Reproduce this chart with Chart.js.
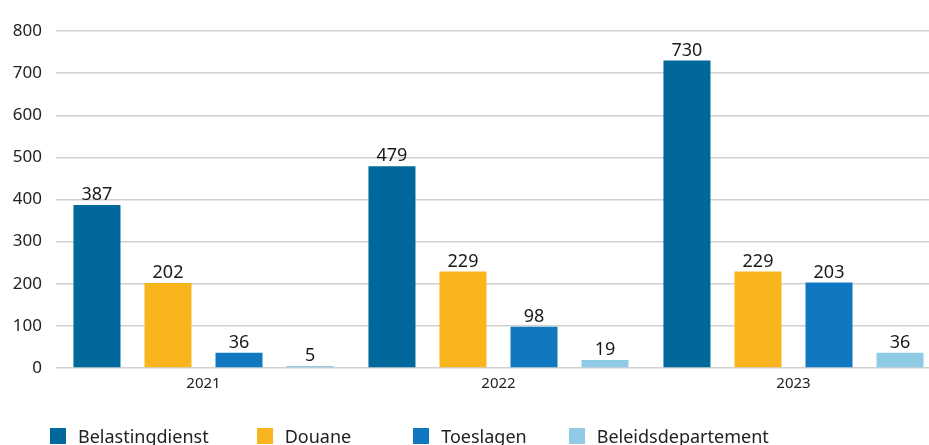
<!DOCTYPE html>
<html>
<head>
<meta charset="utf-8">
<script src="https://cdn.jsdelivr.net/npm/chart.js@4"></script>
<style>
  html, body { margin: 0; padding: 0; background: #fff; overflow: hidden; }
  #wrap { position: absolute; left: 0; top: 0; width: 945px; height: 445px; }
  #legend { position: absolute; left: 50px; top: 424px; display: flex; white-space: nowrap;
            font-family: "Noto Sans", "Open Sans", sans-serif; font-size: 18px; color: #222; }
  #legend .item { display: flex; align-items: center; margin-right: 48px; }
  #legend .item:nth-child(2) { margin-right: 62px; }
  #legend .item:nth-child(3) { margin-right: 42px; }
  #legend .box { width: 16px; height: 16px; margin-right: 12px; }
</style>
</head>
<body>
<div id="wrap"><canvas id="chart" width="945" height="445"></canvas></div>
<div id="legend"></div>
<script>
// jaren en aantallen per organisatie
const years = ['2021', '2022', '2023'];
const belastingdienst = [387, 479, 730];
const douane = [202, 229, 229];
const toeslagen = [36, 98, 203];
const beleidsdepartement = [5, 19, 36];
const yTicks = [0, 100, 200, 300, 400, 500, 600, 700, 800];

const fontFamily = '"Noto Sans", "Open Sans", sans-serif';

// waarde boven elke staaf
const valueLabels = {
    id: 'valueLabels',
    afterDatasetsDraw(chart) {
        const ctx = chart.ctx;
        ctx.save();
        ctx.font = '18px ' + fontFamily;
        ctx.fillStyle = '#1a1a1a';
        ctx.textAlign = 'center';
        ctx.textBaseline = 'bottom';
        chart.data.datasets.forEach((ds, i) => {
            chart.getDatasetMeta(i).data.forEach((bar, j) => {
                ctx.fillText(String(ds.data[j]), bar.x, bar.y - 1);
            });
        });
        ctx.restore();
    }
};

const chart = new Chart(document.getElementById('chart').getContext('2d'), {
    type: 'bar',
    data: {
        labels: years,
        datasets: [
            { label: 'Belastingdienst', data: belastingdienst, backgroundColor: '#01689b' },
            { label: 'Douane', data: douane, backgroundColor: '#f9b51e' },
            { label: 'Toeslagen', data: toeslagen, backgroundColor: '#1077c1' },
            { label: 'Beleidsdepartement', data: beleidsdepartement, backgroundColor: '#8fcae7' }
        ]
    },
    options: {
        responsive: false,
        animation: false,
        devicePixelRatio: 1,
        layout: { padding: { top: 31, right: 4, left: 0, bottom: 45 } },
        datasets: {
            bar: { categoryPercentage: 0.963, barPercentage: 0.662 }
        },
        scales: {
            y: {
                min: 0,
                max: 800,
                afterFit(scale) { scale.width = 56; },
                afterBuildTicks(scale) { scale.ticks = yTicks.map(v => ({ value: v })); },
                border: { display: false },
                grid: { color: '#d0d0d0', lineWidth: 1.5, drawTicks: false },
                ticks: {
                    padding: 14,
                    color: '#222',
                    font: { family: fontFamily, size: 17 }
                }
            },
            x: {
                border: { display: false },
                grid: { display: false, drawTicks: false },
                ticks: {
                    padding: 7,
                    color: '#222',
                    font: { family: fontFamily, size: 15 }
                }
            }
        },
        plugins: {
            legend: { display: false },
            tooltip: { enabled: false }
        }
    },
    plugins: [valueLabels]
});

// legenda als html, opgebouwd uit de datasets
const legend = document.getElementById('legend');
chart.data.datasets.forEach(ds => {
    const item = document.createElement('div');
    item.className = 'item';
    item.innerHTML = '<span class="box" style="background:' + ds.backgroundColor + '"></span><span>' + ds.label + '</span>';
    legend.appendChild(item);
});
</script>
</body>
</html>
